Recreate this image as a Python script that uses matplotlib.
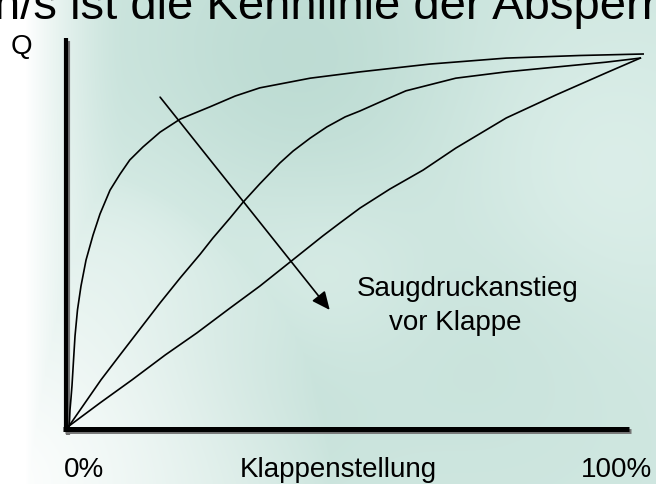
import numpy as np
import matplotlib.pyplot as plt

plt.rcParams['font.family'] = ['Liberation Sans', 'DejaVu Sans']

# Klappenstellung in %, Q in % of max
top_x = [0, 0.09, 0.17, 0.35, 0.52, 0.79, 1.05, 1.48, 2.09, 2.97, 4.19, 5.41, 7.16, 8.9,
         10.6, 12.9, 15.9, 19.4, 24.6, 29.0, 33.3, 42.1, 50.8, 63.0, 76.3, 89.2, 100.2]
top_q = [0, 1.6, 4.3, 7.5, 10.8, 17.7, 24.2, 31.2, 37.6, 44.6, 51.3, 57.0, 63.4, 67.7,
         71.5, 75.0, 79.0, 82.5, 85.8, 88.7, 90.9, 93.5, 95.2, 97.3, 98.9, 99.6, 100.0]

mid_x = [0, 2.79, 5.58, 8.9, 12.4, 15.9, 19.4, 22.9, 25.1, 28.1, 30.4, 33.3, 36.8, 39.1,
         42.1, 45.0, 48.2, 50.8, 54.3, 58.8, 67.5, 76.3, 85.0, 93.7, 99.7]
mid_q = [0, 6.2, 12.4, 19.1, 26.1, 33.1, 39.8, 46.2, 50.5, 55.9, 60.2, 65.1, 70.7, 73.9,
         77.4, 80.4, 83.1, 84.7, 87.1, 90.1, 93.5, 95.2, 96.5, 97.8, 98.9]

low_x = [0, 5.41, 11.0, 16.8, 22.3, 28.1, 33.3, 38.6, 44.3, 47.3, 50.8, 56.0, 61.8, 67.5,
         76.3, 85.0, 93.7, 99.7]
low_q = [0, 6.2, 12.4, 19.1, 25.0, 31.7, 37.6, 44.1, 51.1, 54.6, 58.6, 63.7, 68.8, 74.7,
         82.8, 89.0, 94.9, 98.9]

arrow_start = (15.9, 88.4)
arrow_end = (45.5, 31.2)

W, H = 656, 484
fig = plt.figure(figsize=(W / 100, H / 100), dpi=100)

# cloudy teal slide background
bg = fig.add_axes([0, 0, 1, 1])
yy, xx = np.mgrid[0:H, 0:W].astype(float)
dark = np.array([0.73, 0.855, 0.82])
light = np.array([0.87, 0.94, 0.92])
m = 0.4 * np.ones((H, W))
for cx, cy, r, a in [(300, 60, 120, 0.5), (250, 360, 90, 0.35), (320, 280, 70, -0.4),
                     (600, 180, 110, -0.35), (150, 250, 80, -0.3), (500, 330, 100, 0.2)]:
    m += a * np.exp(-((xx - cx) ** 2 + (yy - cy) ** 2) / (2 * r ** 2))
m = np.clip(m, 0, 1)
img = light * (1 - m[..., None]) + dark * m[..., None]
w_left = np.clip(1 - (xx - 25) / 100, 0, 1) ** 1.6
w_bl = np.clip(1 - np.hypot(xx, yy - H) / 330, 0, 1) ** 0.8
w = np.maximum(w_left, w_bl)[..., None]
img = img * (1 - w) + w
bg.imshow(img, extent=[0, W, H, 0], aspect='auto')
bg.set_xlim(0, W)
bg.set_ylim(H, 0)
bg.axis('off')

ax = fig.add_axes([69 / W, 58 / H, 573 / W, 372 / H])
ax.set_xlim(0, 100)
ax.set_ylim(0, 100)
ax.axis('off')

# axis lines with slight shadow
ax.plot([-0.2, -0.2], [-2.4, 103.5], color='0.45', lw=3, clip_on=False, solid_capstyle='butt')
ax.plot([-0.7, 98.1], [-1.4, -1.4], color='0.45', lw=3.5, clip_on=False, solid_capstyle='butt')
ax.plot([-0.52, -0.52], [-1.6, 104.3], color='black', lw=3, clip_on=False, solid_capstyle='butt')
ax.plot([-1.05, 97.7], [-0.8, -0.8], color='black', lw=3.6, clip_on=False, solid_capstyle='butt')

for xs, qs in [(top_x, top_q), (mid_x, mid_q), (low_x, low_q)]:
    ax.plot(xs, qs, color='black', lw=1.2, clip_on=False, solid_joinstyle='round')

ax.annotate('', xy=arrow_end, xytext=arrow_start,
            arrowprops=dict(arrowstyle='-|>,head_length=1.1,head_width=0.5',
                            color='black', lw=1.2, shrinkA=0, shrinkB=0))

ax.text(69.5, 36.8, 'Saugdruckanstieg', fontsize=20, ha='center', va='center')
ax.text(67.4, 27.7, 'vor Klappe', fontsize=20, ha='center', va='center')

# labels around the plot
fig.text(21 / W, 1 - 47 / H, 'Q', fontsize=20, ha='center', va='center')
fig.text(64 / W, 1 - 470 / H, '0%', fontsize=20, ha='left', va='center')
fig.text(338 / W, 1 - 470 / H, 'Klappenstellung', fontsize=20, ha='center', va='center')
fig.text(652 / W, 1 - 470 / H, '100%', fontsize=20, ha='right', va='center')

# slide title, cut off at the top edge
fig.text(-6 / W, 1 - 19 / H, 'n/s ist die Kennlinie der Absperrklappe', fontsize=34,
         ha='left', va='baseline')

fig.savefig('out.png', dpi=100)
